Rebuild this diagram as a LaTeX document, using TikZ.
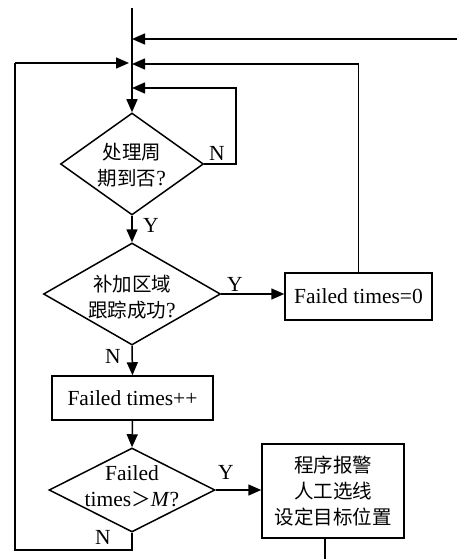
\documentclass[tikz,border=0pt]{standalone}
\usepackage{fontspec}
\setmainfont{Liberation Serif}
\newfontfamily\cjk{Noto Sans CJK SC}
\usetikzlibrary{shapes.geometric,arrows.meta}
\newcommand{\zh}[1]{{\cjk\fontsize{19.5}{26}\selectfont #1}}
\begin{document}
\begin{tikzpicture}[x=1pt,y=-1pt,
  line width=1.5pt,
  arr/.style={-{Triangle[length=13pt,width=11pt]}},
  dia/.style={draw,diamond,inner sep=0pt},
  boxn/.style={draw,rectangle,inner sep=0pt},
  txt/.style={align=center,font=\fontsize{21.5}{26}\selectfont,inner sep=0pt},
  lab/.style={font=\fontsize{21.5}{24}\selectfont,inner sep=0pt}]
\useasboundingbox (0,0) rectangle (457,559);
% nodes
\node[dia,minimum width=143pt,minimum height=102pt] (d1) at (132,164) {};
\node[txt] (d1t) at (132,165) {\zh{处理周}\\\zh{期到否}?};
\node[dia,minimum width=177pt,minimum height=102pt] (d2) at (132,294) {};
\node[txt] (d2t) at (132,297) {\zh{补加区域}\\\zh{跟踪成功}?};
\node[boxn,minimum width=147pt,minimum height=47pt] (b0) at (358.5,296.5) {};
\node[txt] (b0t) at (b0.center) {Failed times=0};
\node[boxn,minimum width=161pt,minimum height=44pt] (b1) at (132.5,398) {};
\node[txt] (b1t) at (b1.center) {Failed times++};
\node[dia,minimum width=166pt,minimum height=84pt] (d3) at (132,490) {};
\node[txt] (d3t) at (132,486) {Failed\\times\zh{＞}\textit{M}?};
\node[boxn,minimum width=142pt,minimum height=94pt] (b2) at (333,491) {};
\node[txt] (b2t) at (b2.center) {\zh{程序报警}\\\zh{人工选线}\\\zh{设定目标位置}};
% coordinates
\coordinate (top) at (132,8);
\coordinate (j1) at (132,39);
\coordinate (j2) at (132,64);
\coordinate (j2l) at (129,63);
\coordinate (j3) at (132,88);
\coordinate (e1) at (457,39);
\coordinate (r1) at (236,88);
\coordinate (l1) at (15,550);
\coordinate (l2) at (15,63);
\coordinate (x1) at (325,538);
\coordinate (x2) at (325,559);
% connectors
\draw[arr] (top) -- (d1.north);
\draw[arr] (e1) -- (j1);
\draw[arr] (b0.north) |- (j2);
\draw[arr] (d1.east) -| (r1) -- (j3);
\draw[arr] (d1.south) -- (d2.north);
\draw[arr] (d2.east) -- (d2.east -| b0.west);
\draw[arr] (d2.south) -- (b1.north);
\draw[arr] (b1.south) -- (d3.north);
\draw[arr] (d3.east) -- (d3.east -| b2.west);
\draw (d3.south) |- (l1) -- (l2);
\draw[arr] (l2) -- (j2l);
\draw (x1) -- (x2);
% labels
\node[lab] (ln1) at (217,153) {N};
\node[lab] (ly1) at (151,225) {Y};
\node[lab] (ly2) at (235,284) {Y};
\node[lab] (ln2) at (113,356) {N};
\node[lab] (ly3) at (226,472) {Y};
\node[lab] (ln3) at (103,537) {N};
\end{tikzpicture}
\end{document}
